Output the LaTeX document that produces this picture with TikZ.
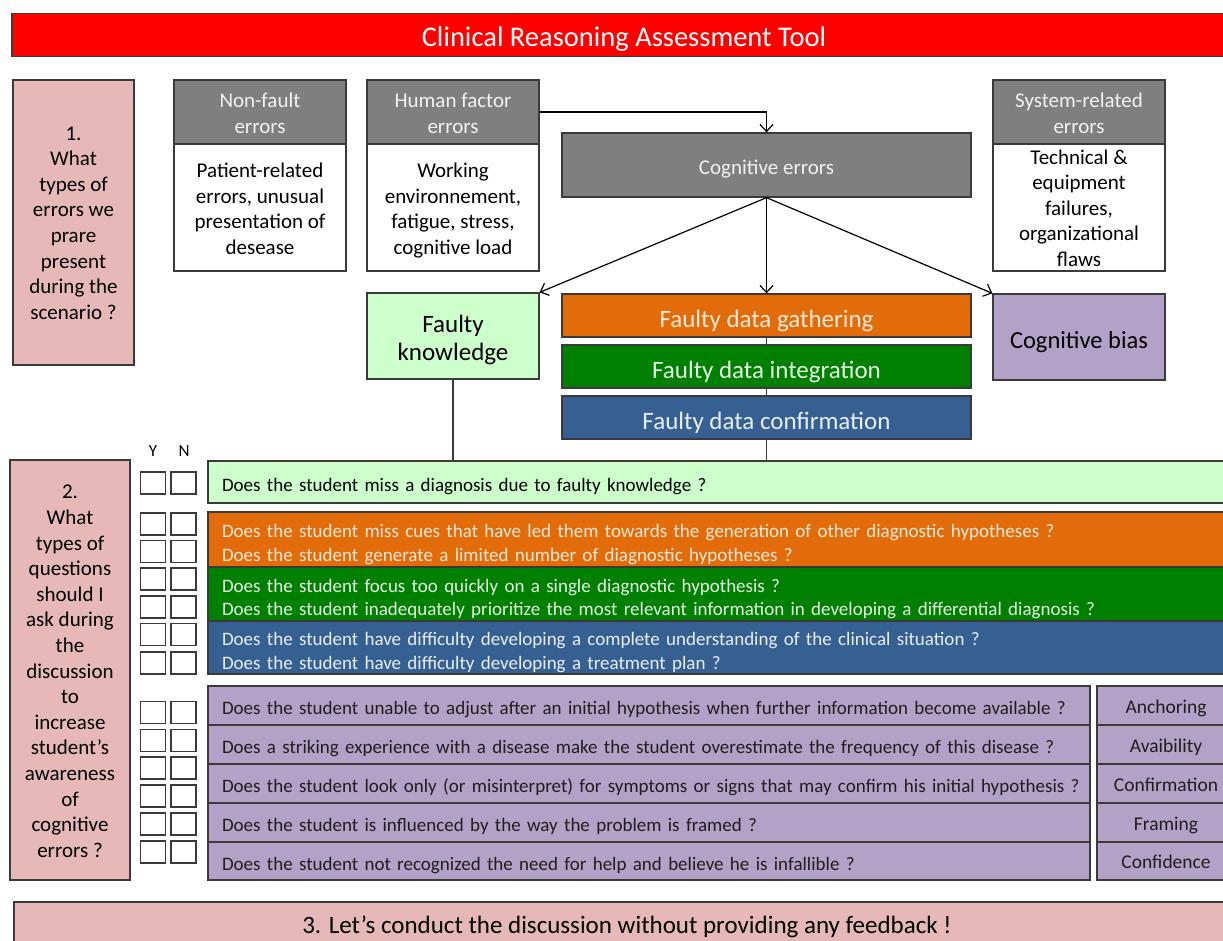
\documentclass[tikz,border=0pt]{standalone}
\usepackage{fontspec}
\setmainfont{Carlito}
\usetikzlibrary{arrows.meta}
\definecolor{bordc}{HTML}{3A3A3A}
\definecolor{titred}{HTML}{FF0000}
\definecolor{pinkc}{HTML}{E6B9B8}
\definecolor{greyc}{HTML}{7F7F7F}
\definecolor{greytxt}{HTML}{F2F2F2}
\definecolor{lgreen}{HTML}{CCFFCC}
\definecolor{orangec}{HTML}{E36C0A}
\definecolor{orangetxt}{HTML}{FDE9D9}
\definecolor{greenc}{HTML}{008000}
\definecolor{greentxt}{HTML}{E6F2E6}
\definecolor{bluec}{HTML}{376092}
\definecolor{bluetxt}{HTML}{E6EEF7}
\definecolor{purplec}{HTML}{B3A2C7}
\definecolor{purpletxt}{HTML}{1E1E1E}
\begin{document}
\begin{tikzpicture}[x=1pt,y=-1pt,
  box/.style={draw=bordc, line width=1.3pt, inner sep=0pt, align=center, text depth=0pt},
  th/.style={text height=#1},
  sz/.style 2 args={minimum width=#1, minimum height=#2},
  hdr/.style={box, fill=greyc, text=greytxt, font=\fontsize{21}{25.5}\selectfont},
  body/.style={box, fill=white, text=black, font=\fontsize{21}{25.5}\selectfont},
  pinkbox/.style={box, fill=pinkc, text=black, font=\fontsize{21}{25.6}\selectfont},
  bar/.style={box, text=white, font=\fontsize{25}{28}\selectfont, th=24pt},
  qbox/.style={box, align=left, inner xsep=14pt, minimum width=1032, text width=1004, font=\fontsize{19}{23.5}\selectfont},
  qtwo/.style={text height=20pt, text depth=23.6pt},
  prow/.style={box, fill=purplec, text=purpletxt, align=left, inner xsep=14pt, minimum width=882, text width=854, minimum height=39, font=\fontsize{19}{22}\selectfont, th=18.5pt},
  plab/.style={box, fill=purplec, text=purpletxt, minimum width=138, minimum height=39, font=\fontsize{19.5}{22}\selectfont, th=15pt},
  chk/.style={draw=bordc, line width=1.3pt, fill=white, minimum width=25, minimum height=22, inner sep=0pt},
  arr/.style={draw=black, line width=1.2pt, -{Straight Barb[length=7pt,width=13pt,line width=1.2pt]}},
  link/.style={draw=bordc, line width=1.2pt}]
\useasboundingbox (0,0) rectangle (1223,941);
\clip (0,0) rectangle (1223,941);

% title
\node[box, fill=titred, text=white, sz={1224}{43}, th=23pt, font=\fontsize{28.5}{32}\selectfont] (title) at (624,35) {Clinical Reasoning Assessment Tool};

% section 1
\node[pinkbox, sz={121}{285}, th=193.5pt] (s1) at (73.5,222.5) {1.\\What\\types of\\errors we\\prare\\present\\during the\\scenario ?};

\node[hdr, sz={172}{64}, th=42.5pt] (nfh) at (260,112) {Non-fault\\errors};
\node[body, sz={172}{127}, th=93.5pt] (nfb) at (260,207.5) {Patient-related\\errors, unusual\\presentation of\\desease};
\node[hdr, sz={172}{64}, th=42.5pt] (hfh) at (453,112) {Human factor\\errors};
\node[body, sz={172}{127}, th=93.5pt] (hfb) at (453,207.5) {Working\\environnement,\\fatigue, stress,\\cognitive load};
\node[hdr, sz={172}{64}, th=42.5pt] (sysh) at (1079,112) {System-related\\errors};
\node[body, sz={172}{127}, th=117.5pt] (sysb) at (1079,207.5) {Technical \&\\equipment\\failures,\\organizational\\flaws};

\node[hdr, sz={409}{64}, th=18.6pt] (cog) at (766.5,165) {Cognitive errors};

\node[box, fill=lgreen, text=black, sz={172}{86}, th=49pt, font=\fontsize{25}{28}\selectfont] (fk) at (453,336) {Faulty\\knowledge};
\node[bar, fill=orangec, text=orangetxt, sz={409}{43}] (fdg) at (766.5,315.5) {Faulty data gathering};
\node[bar, fill=greenc, text=greentxt, sz={409}{43}] (fdi) at (766.5,366.5) {Faulty data integration};
\node[bar, fill=bluec, text=bluetxt, sz={409}{43}] (fdc) at (766.5,417.5) {Faulty data confirmation};
\node[box, fill=purplec, text=black, sz={172}{86}, th=22.8pt, font=\fontsize{24.5}{28}\selectfont] (cb) at (1079,337) {Cognitive bias};

% connectors section 1
\draw[arr] (hfh.east) -| (cog.north);
\draw[arr] (cog.south) -- (fk.north east);
\draw[arr] (cog.south) -- (fdg.north);
\draw[arr] (cog.south) -- (cb.north west);

% section 2
\node[font=\fontsize{17}{19}\selectfont] (ylab) at (153,451) {Y};
\node[font=\fontsize{17}{19}\selectfont] (nlab) at (184,451) {N};

\node[pinkbox, sz={120}{420}, th=374.5pt] (s2) at (70,670) {2.\\What\\types of\\questions\\should I\\ask during\\the\\discussion\\to\\increase\\student’s\\awareness\\of\\cognitive\\errors ?};

\node[qbox, fill=lgreen, text=black, minimum height=42, th=19.4pt] (qk) at (724,482) {Does the student miss a diagnosis due to faulty knowledge ?};
\node[qbox, qtwo, fill=orangec, text=orangetxt, minimum height=55] (qo) at (724,539.5) {Does the student miss cues that have led them towards the generation of other diagnostic hypotheses ?\\Does the student generate a limited number of diagnostic hypotheses ?};
\node[qbox, qtwo, fill=greenc, text=greentxt, minimum height=54] (qg) at (724,594) {Does the student focus too quickly on a single diagnostic hypothesis ?\\Does the student inadequately prioritize the most relevant information in developing a differential diagnosis ?};
\node[qbox, qtwo, fill=bluec, text=bluetxt, minimum height=53] (qb) at (724,647.5) {Does the student have difficulty developing a complete understanding of the clinical situation ?\\Does the student have difficulty developing a treatment plan ?};

\node[prow] (p1) at (649,705.5) {Does the student unable to adjust after an initial hypothesis when further information become available ?};
\node[prow] (p2) at (649,744.5) {Does a striking experience with a disease make the student overestimate the frequency of this disease ?};
\node[prow] (p3) at (649,783.5) {\mbox{Does the student look only (or misinterpret) for symptoms or signs that may confirm his initial hypothesis ?}};
\node[prow] (p4) at (649,822.5) {Does the student is influenced by the way the problem is framed ?};
\node[prow, minimum height=38] (p5) at (649,861) {Does the student not recognized the need for help and believe he is infallible ?};

\node[plab] (l1) at (1166,705.5) {Anchoring};
\node[plab] (l2) at (1166,744.5) {Avaibility};
\node[plab] (l3) at (1166,783.5) {Confirmation};
\node[plab] (l4) at (1166,822.5) {Framing};
\node[plab, minimum height=38] (l5) at (1166,861) {Confidence};

\foreach \yy [count=\i] in {483,524,551.5,579,607,634.5,663,712.5,740.5,768,796,824,852}{
  \node[chk] (cy\i) at (153,\yy) {};
  \node[chk] (cn\i) at (183.5,\yy) {};
}

% vertical links
\draw[link] (fk.south) -- (fk.south |- qk.north);
\draw[link] (fdg.south) -- (fdi.north);
\draw[link] (fdi.south) -- (fdc.north);
\draw[link] (fdc.south) -- (fdc.south |- qk.north);

% section 3
\node[box, fill=pinkc, text=black, sz={1226}{48}, th=15pt, font=\fontsize{25}{28}\selectfont] (s3) at (627,926) {3. Let’s conduct the discussion without providing any feedback !};
\end{tikzpicture}
\end{document}
